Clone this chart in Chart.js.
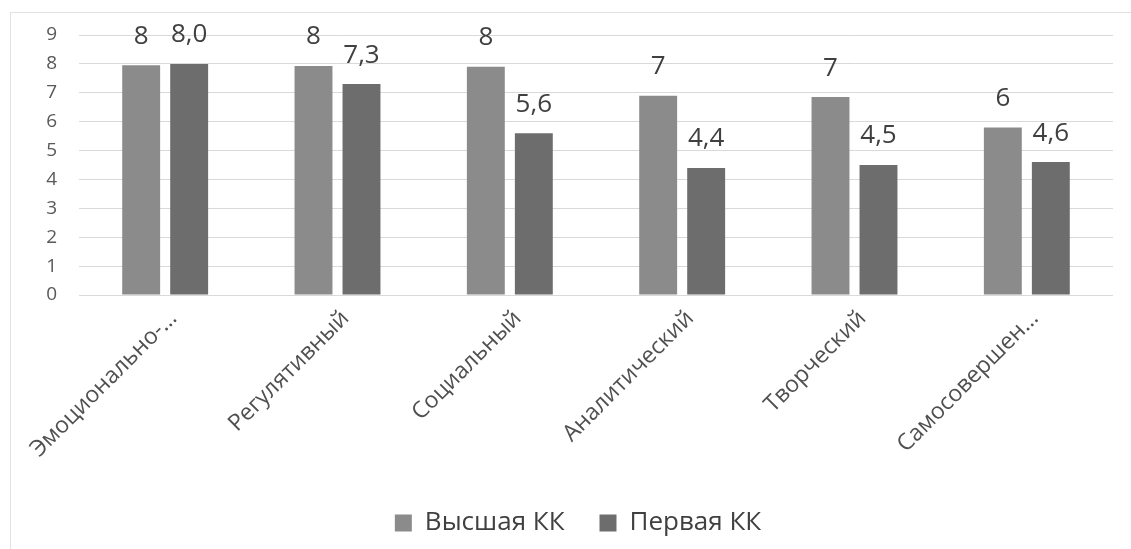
<!DOCTYPE html>
<html>
<head>
<meta charset="utf-8">
<script src="https://cdn.jsdelivr.net/npm/chart.js@4.4.0/dist/chart.umd.min.js"></script>
<style>
  html, body { margin: 0; padding: 0; background: #fff; }
  #wrap { position: relative; width: 1131px; height: 549px; overflow: hidden; }
  #frame { position: absolute; left: 10px; top: 12px; width: 1200px; height: 600px;
           border-left: 1px solid #e2e2e2; border-top: 1px solid #e2e2e2; }
  canvas { position: absolute; left: 0; top: 0; }
</style>
</head>
<body>
<div id="wrap">
  <div id="frame"></div>
  <canvas id="chart" width="1131" height="549"></canvas>
</div>
<script>
var categories = ['Эмоционально-…', 'Регулятивный', 'Социальный', 'Аналитический', 'Творческий', 'Самосовершен…'];
var seriesNames = ['Высшая КК', 'Первая КК'];
var higherValues = [7.95, 7.93, 7.9, 6.9, 6.85, 5.8];
var firstValues = [8.0, 7.3, 5.6, 4.4, 4.5, 4.6];
var yTicks = [0, 1, 2, 3, 4, 5, 6, 7, 8, 9];

var FONT = '"Open Sans", sans-serif';

// value labels above the bars (no datalabels plugin available offline)
var barLabels = {
  id: 'barLabels',
  afterDatasetsDraw: function(chart) {
    var ctx = chart.ctx;
    ctx.save();
    ctx.font = '26px ' + FONT;
    ctx.fillStyle = '#404040';
    ctx.textAlign = 'center';
    ctx.textBaseline = 'middle';
    chart.data.datasets.forEach(function(ds, i) {
      var meta = chart.getDatasetMeta(i);
      meta.data.forEach(function(bar, j) {
        var v = ds.data[j];
        var txt = i === 0 ? v.toFixed(0) : v.toFixed(1).replace('.', ',');
        ctx.fillText(txt, bar.x, bar.y - 29);
      });
    });
    ctx.restore();
  }
};

var chart = new Chart(document.getElementById('chart'), {
  type: 'bar',
  data: {
    labels: categories,
    datasets: [
      { label: seriesNames[0], data: higherValues, backgroundColor: '#8b8b8b',
        categoryPercentage: 0.557, barPercentage: 0.79 },
      { label: seriesNames[1], data: firstValues, backgroundColor: '#6d6d6d',
        categoryPercentage: 0.557, barPercentage: 0.79 }
    ]
  },
  options: {
    responsive: false,
    animation: false,
    layout: { padding: { left: 43, right: 18, top: 35, bottom: 3 } },
    plugins: {
      tooltip: { enabled: false },
      legend: {
        position: 'bottom',
        labels: {
          font: { family: FONT, size: 26 },
          color: '#404040',
          boxWidth: 17,
          boxHeight: 17,
          padding: 35
        }
      }
    },
    scales: {
      x: {
        grid: { display: false, drawTicks: false },
        border: { display: false },
        ticks: {
          font: { family: FONT, size: 23 },
          color: '#505050',
          minRotation: 45,
          maxRotation: 45,
          padding: 10,
          labelOffset: 8,
          autoSkip: false
        },
        afterFit: function(scale) { scale.height = 180; }
      },
      y: {
        min: 0,
        max: 9,
        afterBuildTicks: function(scale) {
          scale.ticks = yTicks.map(function(v) { return { value: v }; });
        },
        grid: { color: '#d9d9d9', lineWidth: 1, drawTicks: false },
        border: { display: false },
        ticks: {
          font: { family: FONT, size: 19 },
          color: '#595959',
          padding: 22
        },
        afterFit: function(scale) { scale.width = 36; }
      }
    }
  },
  plugins: [barLabels]
});
</script>
</body>
</html>
